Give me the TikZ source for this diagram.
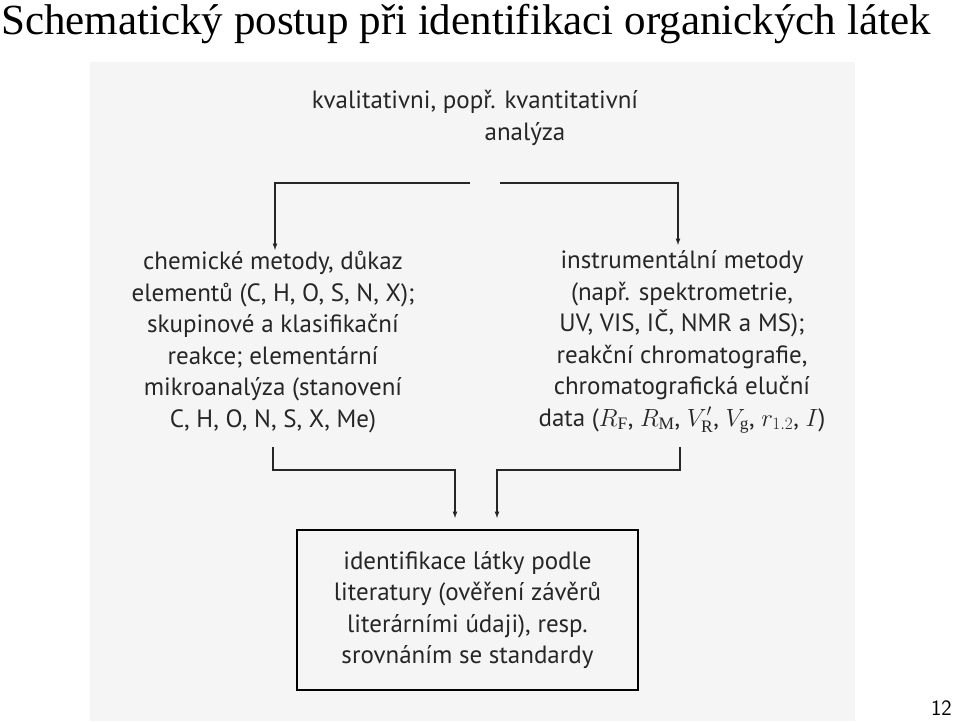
\documentclass[tikz,border=0pt]{standalone}
\usepackage{fontspec}
\setmainfont{Liberation Serif}
\newfontfamily\scan{PT Sans}
\begin{document}
\begin{tikzpicture}[x=1pt,y=-1pt,
  ln/.style={line width=1.2pt,black!85},
  ar/.style={ln,-latex},
  txt/.style={font=\scan\fontsize{25}{31.5}\selectfont,align=center,text=black!85}]
\useasboundingbox (0,0) rectangle (959,721);
\fill[black!4] (90,62) rectangle (855,721);
\node[anchor=north west,font=\fontsize{43}{45}\selectfont,inner sep=0] (title) at (1,4) {Schematický postup při identifikaci organických látek};
\node[anchor=south east,font=\sffamily\fontsize{22}{24}\selectfont,inner sep=0] (pg) at (952,716) {12};
\node[txt] (top) at (475,118) {kvalitativni, popř. kvantitativní\\\hspace*{4em}analýza};
\node[txt] (left) at (273,342) {chemické metody, důkaz\\elementů (C, H, O, S, N, X);\\skupinové a klasifikační\\reakce; elementární\\mikroanalýza (stanovení\\C, H, O, N, S, X, Me)};
\node[txt] (right) at (682,342) {instrumentální metody\\(např. spektrometrie,\\UV, VIS, IČ, NMR a MS);\\reakční chromatografie,\\chromatografická eluční\\data ($R_{\mathrm F}$, $R_{\mathrm M}$, $V'_{\mathrm R}$, $V_{\mathrm g}$, $r_{1.2}$, $I$)};
\node[txt,draw,line width=1.5pt,minimum width=341,minimum height=160] (box) at (467.5,610) {identifikace látky podle\\literatury (ověření závěrů\\literárními údaji), resp.\\srovnáním se standardy};
\coordinate (a1) at (470,183); \coordinate (a2) at (275,183);
\coordinate (b1) at (500,183); \coordinate (b2) at (678,183);
\draw[ar] (a1) -- (a2) -- (275,250);
\draw[ar] (b1) -- (b2) -- (678,245);
\draw[ar] (273,447) -- (273,470) -- (455,470) -- (455,518);
\draw[ar] (680,447) -- (680,470) -- (497,470) -- (497,518);
\end{tikzpicture}
\end{document}
